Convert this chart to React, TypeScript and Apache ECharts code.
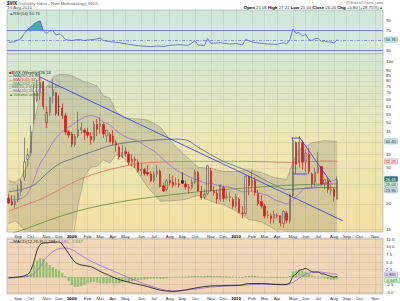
import React, { useEffect, useRef } from 'react';
import * as echarts from 'echarts';

const FONT = '"Liberation Sans", Arial, sans-serif';

// Weekly bars: week 0 = 15-Aug-2008 ... week 104 = 13-Aug-2010; the axis runs on to week 118
const AXIS_MAX_WEEK = 118.5;
const monthStartWeeks = [3, 7, 12, 16, 20, 25, 29, 33, 37, 42, 46, 51, 55, 59, 64, 68, 72, 77, 81, 85, 90, 94, 98, 103, 107, 111, 116];
const monthTickLabels = ['Sep', 'Oct', 'Nov', 'Dec', '2009', 'Feb', 'Mar', 'Apr', 'May', 'Jun', 'Jul', 'Aug', 'Sep', 'Oct', 'Nov', 'Dec', '2010', 'Feb', 'Mar', 'Apr', 'May', 'Jun', 'Jul', 'Aug', 'Sep', 'Oct', 'Nov'];

const opens = [
  21.3, 20.5, 19.8, 20.9, 22.9, 27.0, 33.0, 35.5, 52.0, 64.0,
  70.0, 79.0, 50.0, 56.0, 68.0, 70.0, 60.0, 59.0, 54.0, 45.0,
  44.0, 39.0, 43.0, 46.0, 46.0, 45.0, 43.0, 41.0, 49.0, 48.0,
  49.0, 43.0, 44.0, 43.0, 40.0, 38.0, 34.0, 36.0, 35.0, 32.0,
  33.0, 32.0, 29.0, 29.5, 28.5, 28.0, 26.0, 28.0, 29.0, 24.5,
  23.5, 26.0, 25.5, 25.0, 25.0, 26.0, 25.0, 24.0, 24.0, 25.5,
  28.5, 23.0, 21.5, 22.5, 29.0, 23.0, 22.5, 21.0, 24.0, 21.5,
  21.5, 21.0, 19.5, 21.0, 18.0, 18.0, 27.0, 24.5, 26.0, 22.5,
  20.5, 19.5, 17.5, 17.5, 17.0, 17.5, 17.5, 16.0, 18.0, 16.5,
  22.0, 40.0, 32.0, 40.0, 32.5, 35.0, 28.0, 25.5, 28.5, 30.5,
  25.0, 26.0, 23.5, 23.5, 21.08,
];
const highs = [
  22.4, 22.1, 22.0, 24.8, 26.4, 42.2, 37.5, 48.4, 76.9, 81.2,
  89.5, 80.0, 60.0, 67.0, 81.5, 70.5, 68.0, 62.0, 56.0, 46.0,
  45.0, 44.0, 56.6, 50.0, 47.0, 47.0, 45.0, 50.9, 52.0, 53.3,
  50.0, 46.0, 45.0, 46.0, 41.0, 39.0, 39.0, 38.0, 36.0, 35.0,
  34.0, 33.0, 31.5, 30.0, 31.0, 29.0, 29.0, 31.0, 29.5, 25.5,
  26.5, 28.0, 27.5, 27.0, 26.5, 28.5, 26.0, 25.0, 26.5, 29.5,
  29.0, 24.5, 23.5, 31.0, 30.0, 24.5, 23.5, 25.0, 24.5, 23.0,
  23.0, 21.5, 22.5, 21.5, 19.5, 27.5, 27.5, 29.0, 27.0, 23.5,
  22.0, 20.0, 18.5, 18.0, 18.5, 18.0, 17.5, 18.5, 18.5, 22.5,
  42.2, 40.5, 43.0, 41.0, 37.0, 37.5, 28.5, 30.0, 36.0, 30.5,
  26.5, 27.0, 25.0, 24.0, 27.21,
];
const lows = [
  20.0, 19.6, 19.0, 20.4, 21.9, 25.9, 30.5, 34.0, 49.0, 63.0,
  65.0, 58.0, 47.0, 54.0, 62.0, 54.0, 54.0, 52.0, 43.5, 42.0,
  38.0, 38.0, 42.0, 44.0, 41.0, 42.0, 39.0, 40.0, 43.0, 44.0,
  42.0, 40.0, 40.0, 39.0, 36.0, 33.0, 33.5, 34.0, 31.0, 30.5,
  30.0, 28.5, 27.5, 27.5, 27.5, 25.5, 25.5, 27.0, 24.0, 23.0,
  23.0, 24.5, 24.0, 24.5, 24.0, 25.0, 23.5, 22.5, 23.5, 25.0,
  23.0, 21.0, 21.0, 22.0, 23.0, 22.0, 20.0, 20.5, 20.5, 21.0,
  20.5, 19.0, 19.0, 18.0, 17.0, 17.5, 22.0, 23.0, 22.0, 19.5,
  19.0, 17.0, 17.0, 16.0, 16.0, 17.0, 15.5, 15.2, 16.0, 16.0,
  21.5, 28.0, 30.0, 29.5, 28.5, 28.0, 24.0, 24.5, 28.0, 24.5,
  23.5, 22.5, 22.0, 20.5, 21.0,
];
const closes = [
  20.2, 19.8, 20.6, 22.6, 25.7, 32.1, 34.7, 45.1, 69.95, 70.33,
  79.13, 59.89, 56.10, 66.31, 72.67, 55.28, 59.93, 54.28, 44.93, 43.38,
  39.19, 42.82, 46.11, 47.27, 44.84, 43.37, 41.25, 49.30, 46.35, 49.33,
  43.99, 45.89, 40.19, 39.70, 38.85, 33.94, 35.84, 35.30, 32.05, 33.12,
  32.63, 28.92, 29.62, 28.15, 27.99, 25.93, 27.95, 29.02, 24.34, 23.09,
  25.92, 25.40, 24.66, 25.01, 24.76, 25.26, 24.15, 23.92, 25.61, 28.68,
  23.12, 21.43, 22.27, 30.69, 23.15, 22.73, 21.14, 24.74, 21.25, 21.59,
  21.68, 19.47, 21.68, 18.13, 17.91, 27.31, 24.62, 26.11, 22.73, 20.02,
  19.50, 17.42, 17.58, 16.97, 17.77, 17.47, 16.14, 18.36, 16.62, 22.05,
  40.95, 31.24, 40.10, 32.07, 35.48, 28.79, 25.05, 28.53, 30.12, 24.98,
  26.25, 23.47, 23.50, 21.74, 26.24,
];

// overlays: [week, value]
const ma20 = [[0, 20.96], [2, 20.9], [4, 21.2], [6, 22.4], [8, 26.1], [10, 31.5], [12, 35.2], [14, 40.0], [16, 43.7], [18, 46.5], [20, 48.6], [22, 51.0], [24, 53.2], [26, 54.1], [28, 53.1], [30, 50.3], [32, 48.8], [34, 45.8], [36, 43.5], [38, 41.9], [40, 41.1], [42, 39.6], [44, 37.8], [46, 36.3], [48, 34.1], [50, 31.9], [52, 30.1], [54, 28.7], [56, 27.7], [58, 26.8], [60, 26.1], [62, 25.3], [64, 25.2], [66, 24.7], [68, 24.3], [70, 24.1], [72, 23.6], [74, 22.9], [76, 23.1], [78, 23.0], [80, 22.4], [82, 22.0], [84, 21.0], [86, 20.5], [88, 20.0], [90, 20.9], [92, 22.45], [94, 24.0], [96, 24.1], [98, 24.6], [100, 25.2], [102, 25.8], [104, 26.46]];
const ma50 = [[0, 22.9], [4, 23.5], [8, 24.7], [12, 28.1], [16, 31.4], [20, 33.2], [24, 35.0], [28, 36.7], [32, 38.5], [36, 39.6], [40, 40.4], [44, 40.9], [48, 41.2], [52, 41.5], [56, 41.2], [60, 37.9], [64, 34.8], [68, 32.3], [72, 30.5], [76, 28.8], [80, 26.7], [84, 24.8], [88, 23.5], [92, 23.7], [96, 23.9], [100, 24.05], [104, 23.96]];
const ma100 = [[0, 18.4], [5, 19.7], [10, 21.0], [15, 23.0], [20, 25.3], [25, 27.3], [30, 28.9], [35, 30.2], [40, 31.3], [45, 31.9], [50, 32.1], [60, 32.3], [70, 32.3], [80, 32.2], [90, 31.9], [100, 32.4], [104, 32.29]];
const ma200 = [[0, 14.2], [4, 14.8], [8, 15.6], [16, 17.3], [24, 18.8], [32, 20.0], [40, 21.0], [50, 22.0], [60, 22.9], [70, 23.6], [80, 24.2], [90, 24.7], [100, 25.0], [104, 25.04]];
const bbUpper = [[0, 26.0], [2, 25.5], [4, 27.0], [6, 31.0], [8, 49.7], [10, 68.7], [12, 74.8], [14, 83.3], [16, 86.1], [18, 86.3], [20, 84.8], [22, 82.2], [24, 79.2], [26, 77.9], [28, 75.7], [30, 67.7], [32, 66.0], [34, 56.8], [36, 52.9], [38, 52.5], [40, 52.3], [44, 51.5], [48, 47.6], [52, 39.5], [56, 34.4], [60, 30.2], [64, 29.8], [68, 28.8], [72, 28.8], [76, 29.4], [80, 28.5], [84, 26.9], [88, 26.3], [90, 32.0], [92, 36.9], [96, 39.8], [100, 40.8], [104, 40.45]];
const bbLower = [[0, 16.0], [2, 16.5], [4, 15.5], [6, 14.2], [8, 8], [10, 8], [12, 8], [14, 8], [16, 8], [18, 8], [20, 12.4], [22, 19.8], [24, 27.2], [26, 30.3], [28, 30.5], [30, 32.9], [32, 31.6], [34, 34.8], [36, 34.1], [38, 31.5], [40, 29.9], [44, 24.1], [48, 20.6], [52, 20.7], [56, 21.0], [60, 22.0], [64, 20.6], [68, 19.8], [72, 18.4], [76, 16.8], [80, 16.3], [84, 15.1], [88, 13.7], [90, 9.8], [92, 8], [96, 8.4], [100, 9.6], [104, 12.46]];

// hand-drawn trend lines on the price panel: [[week, value], [week, value]]
const trendLines = [
  [[9.7, 84], [105.8, 16.5]],
  [[92, 42.5], [102, 25.5]],
  [[89.5, 42.0], [92, 42.0]],
  [[90, 28.0], [94.5, 28.0]],
];

// tick values; the ones listed as hidden sit behind value badges
const priceTicks = [15, 20, 25, 30, 35, 40, 45, 50, 55, 60, 65, 70, 75, 80, 85, 90, 100];
const priceLabelTicks = [15, 20, 30, 35, 45, 50, 55, 60, 65, 70, 75, 80, 85, 90, 100];

const rsi = [[0, 44.7], [2, 47], [4, 53], [5, 63], [6, 71], [7, 76], [8, 82], [9, 86], [10, 88], [11, 68], [12, 63], [13, 68], [14, 69], [15, 60], [16, 62], [17, 58.7], [18, 51], [20, 48.7], [22, 51.3], [24, 49], [25, 50], [27, 51], [29, 54], [30, 48.7], [32, 46.7], [35, 44.7], [38, 41.3], [41, 38.7], [45, 36.7], [47, 38], [49, 37], [51, 39.3], [54, 40.7], [57, 39.3], [59, 48.7], [60, 40], [62, 39], [63, 53.3], [64, 43.3], [67, 44.7], [70, 42], [72, 43], [74, 40], [75, 51.3], [76, 48.7], [78, 44.7], [82, 42], [85, 41.3], [87, 44.7], [88, 42], [89, 50], [90, 71.3], [91, 63.3], [92, 64.7], [93, 58], [94, 61.3], [95, 51.3], [96, 49], [97, 53.3], [98, 53], [99, 47], [100, 48], [101, 46], [102, 46], [103, 44], [104, 50.76]];
const rsiTicks = [30, 70, 90];

const macd = [[0, -0.2], [4, 0.2], [6, 0.9], [7, 2.2], [8, 5.0], [9, 8.8], [10, 10.8], [11, 11.3], [12, 11.3], [14, 11.6], [16, 11.6], [17, 10.8], [19, 7.8], [21, 5.0], [23, 4.0], [26, 3.5], [29, 1.9], [32, 0.5], [35, -0.8], [39, -1.9], [44, -3.1], [48, -4.3], [52, -4.7], [56, -4.2], [60, -3.4], [64, -2.9], [67, -2.8], [70, -2.7], [73, -2.7], [76, -2.1], [80, -2.1], [83, -2.3], [86, -2.5], [88, -2.4], [89, -1.9], [90, 0.3], [91, 1.0], [92, 2.3], [93, 2.5], [94, 2.9], [95, 2.4], [96, 1.8], [97, 1.7], [98, 1.7], [99, 1.1], [100, 1.0], [101, 0.6], [102, 0.3], [103, 0.0], [104, 0.232]];
const signal = [[0, -0.3], [4, 0.0], [6, 0.3], [8, 1.0], [10, 3.5], [12, 6.5], [14, 8.4], [16, 9.4], [18, 9.6], [20, 9.1], [23, 7.2], [26, 5.3], [29, 3.9], [32, 2.5], [35, 1.2], [39, -0.6], [44, -2.6], [48, -3.9], [52, -4.6], [56, -4.3], [60, -3.8], [64, -3.3], [68, -3.0], [72, -2.8], [76, -2.5], [80, -2.3], [84, -2.3], [88, -2.3], [90, -1.7], [92, -0.3], [94, 1.0], [96, 1.6], [98, 1.7], [100, 1.5], [102, 1.2], [104, 0.88]];
const histogram = [
  -0.1, 0.0, 0.1, 0.1, 0.2, 0.4, 0.6, 1.5, 4.0, 5.5,
  6.3, 6.0, 4.8, 4.0, 3.2, 2.6, 2.2, 1.3, 0.3, -1.2,
  -2.6, -3.2, -3.1, -2.9, -2.4, -2.0, -1.7, -1.5, -1.7, -1.9,
  -2.0, -2.1, -2.0, -2.0, -2.0, -2.0, -1.7, -1.5, -1.4, -1.3,
  -1.1, -0.9, -0.8, -0.7, -0.6, -0.5, -0.5, -0.4, -0.5, -0.4,
  -0.3, -0.2, -0.1, 0.0, 0.1, 0.1, 0.1, 0.2, 0.3, 0.4,
  0.3, 0.3, 0.3, 0.5, 0.4, 0.3, 0.3, 0.3, 0.2, 0.2,
  0.1, 0.1, 0.1, -0.1, -0.2, 0.3, 0.4, 0.5, 0.4, 0.2,
  0.1, 0.0, -0.1, -0.1, -0.1, -0.2, -0.2, -0.1, -0.1, 0.4,
  1.8, 2.0, 2.4, 2.0, 1.8, 1.0, 0.4, 0.1, 0.1, -0.3,
  -0.4, -0.6, -0.8, -0.9, -0.647,
];
const macdTicks = [-5, -2.5, 0, 2.5, 5, 7.5, 10, 12.5];
const macdLabelTicks = [-5, -2.5, 2.5, 5, 7.5, 10, 12.5];

const L = (v: number) => Math.log10(v);
const logPts = (pts: number[][]) => pts.map(([i, v]) => [i, L(v)]);

function abovePolys(pts: number[][], level: number) {
  const polys: number[][][] = [];
  let cur: number[][] | null = null;
  for (let k = 0; k < pts.length; k++) {
    const [x, y] = pts[k];
    const above = y > level;
    if (k > 0) {
      const [px, py] = pts[k - 1];
      const pAbove = py > level;
      if (above !== pAbove) {
        const t = (level - py) / (y - py);
        const cx = px + t * (x - px);
        if (above) cur = [[cx, level]];
        else if (cur) { cur.push([cx, level]); polys.push(cur); cur = null; }
      }
    } else if (above) cur = [[x, level]];
    if (above && cur) cur.push([x, y]);
  }
  if (cur) { cur.push([cur[cur.length - 1][0], level]); polys.push(cur); }
  return polys;
}

type Badge = { v: number; text: string; bg: string; fg: string; bd: string };
const priceBadges: Badge[] = [
  { v: 40.45, text: '40.45', bg: '#c4e2e8', fg: '#234', bd: '#7aaab4' },
  { v: 32.29, text: '32.29', bg: '#fbe4e4', fg: '#c22', bd: '#e66' },
  { v: 26.46, text: '26.46', bg: '#2f6f78', fg: '#fff', bd: '#2f6f78' },
  { v: 25.04, text: '25.04', bg: '#cfe3d6', fg: '#253', bd: '#7a9' },
  { v: 23.96, text: '23.96', bg: '#c9dcea', fg: '#234', bd: '#7d9cb8' },
];
const rsiBadges: Badge[] = [{ v: 50.76, text: '50.76', bg: '#c4e2e8', fg: '#234', bd: '#7aaab4' }];
const macdBadges: Badge[] = [
  { v: 0.88, text: '0.880', bg: '#e4dcf6', fg: '#436', bd: '#a88ad8' },
  { v: -0.647, text: '-0.647', bg: '#d6efd0', fg: '#363', bd: '#7b7' },
];

const BADGE_H = 5.2;

function badgeSeries(axisIndex: number, items: Badge[], toY: (v: number) => number) {
  return {
    type: 'custom', xAxisIndex: axisIndex, yAxisIndex: axisIndex, silent: true, z: 30,
    data: items.map((b) => [AXIS_MAX_WEEK, toY(b.v)]),
    renderItem: (params: any, api: any) => {
      // stack the badges so that none covers another
      const ys = items.map((b) => api.coord([AXIS_MAX_WEEK, toY(b.v)])[1]);
      const order = ys.map((y, k) => k).sort((a, b) => ys[a] - ys[b]);
      const placed: number[] = new Array(items.length);
      let last = -Infinity;
      order.forEach((k) => { const y = Math.max(ys[k], last + BADGE_H + 0.4); placed[k] = y; last = y; });
      const b = items[params.dataIndex];
      const p = api.coord([AXIS_MAX_WEEK, toY(b.v)]);
      const y = placed[params.dataIndex];
      const w = b.text.length * 2.2 + 2;
      return {
        type: 'group',
        children: [
          { type: 'rect', shape: { x: p[0] + 1.5, y: y - BADGE_H / 2, width: w, height: BADGE_H, r: 0.8 }, style: { fill: b.bg, stroke: b.bd, lineWidth: 0.5 } },
          { type: 'text', style: { x: p[0] + 2.5, y: y + 0.2, text: b.text, fill: b.fg, fontSize: 4.1, fontFamily: FONT, verticalAlign: 'middle' } },
        ],
      };
    },
  };
}

function buildOption() {
  const grids = [
    { left: 7, width: 376, top: 10, height: 44 },
    { left: 7, width: 376, top: 54, height: 178 },
    { left: 7, width: 376, top: 238, height: 56 },
  ];
  const bgs = [
    new echarts.graphic.LinearGradient(0, 0, 0, 1, [{ offset: 0, color: '#cfe6da' }, { offset: 1, color: '#d6eadb' }]),
    new echarts.graphic.LinearGradient(0, 0, 0, 1, [{ offset: 0, color: '#d3e7d3' }, { offset: 0.45, color: '#ebe8b6' }, { offset: 1, color: '#f4e0a4' }]),
    new echarts.graphic.LinearGradient(0, 0, 0, 1, [{ offset: 0, color: '#f1d8b8' }, { offset: 1, color: '#f0d4b4' }]),
  ];
  const gridLine = { show: true, lineStyle: { color: 'rgba(140,140,140,0.35)', width: 0.5 } };
  const axisText = { fontSize: 4.4, fontFamily: FONT, color: '#333' };

  const xAxis = grids.map((_, k) => ({
    type: 'value', gridIndex: k, min: -0.5, max: AXIS_MAX_WEEK,
    axisLine: { show: false }, axisTick: { show: false, customValues: monthStartWeeks },
    splitLine: gridLine,
    axisLabel: {
      show: k > 0, customValues: monthStartWeeks, margin: 2, ...axisText,
      formatter: (v: number) => {
        const idx = monthStartWeeks.indexOf(Math.round(v));
        const s = idx >= 0 ? monthTickLabels[idx] : '';
        return /^\d{4}$/.test(s) ? `{y|${s}}` : s;
      },
      rich: { y: { fontWeight: 'bold', fontSize: 4.4, fontFamily: FONT, color: '#000' } },
    },
  }));

  const priceMin = L(15) - 2.7 / 204;
  const priceMax = L(15) + (229.3 - 54) / 204;
  const yAxis = [
    {
      type: 'value', gridIndex: 0, position: 'right', min: 22, max: 110,
      axisLine: { show: false }, axisTick: { show: false, customValues: rsiTicks },
      splitLine: { show: false },
      axisLabel: { customValues: rsiTicks, margin: 3, ...axisText },
    },
    {
      type: 'value', gridIndex: 1, position: 'right', min: priceMin, max: priceMax,
      axisLine: { show: false }, axisTick: { show: false, customValues: priceTicks.map(L) },
      splitLine: gridLine,
      axisLabel: { customValues: priceLabelTicks.map(L), margin: 3, ...axisText, formatter: (v: number) => String(Math.round(Math.pow(10, v))) },
    },
    {
      type: 'value', gridIndex: 2, position: 'right', min: -5.56, max: 12.93,
      axisLine: { show: false }, axisTick: { show: false, customValues: macdTicks },
      splitLine: gridLine,
      axisLabel: { customValues: macdLabelTicks, margin: 3, ...axisText, formatter: (v: number) => v.toFixed(1) },
    },
  ];

  const line = (data: number[][], color: string, axis: number, width = 0.8, z = 5, smooth: any = 0.3) => ({
    type: 'line', xAxisIndex: axis, yAxisIndex: axis, data, symbol: 'none', smooth, z,
    lineStyle: { color, width }, silent: true,
  });

  const candles = closes.map((c, i) => {
    const o = opens[i];
    const prev = i > 0 ? closes[i - 1] : Infinity;
    const red = c < prev;
    const filled = c < o;
    const col = red ? '#e01818' : '#222';
    const fill = filled ? col : 'rgba(255,255,255,0)';
    const border = red ? '#e01818' : (filled ? '#222' : '#666');
    return {
      value: [i, L(o), L(c), L(lows[i]), L(highs[i])],
      itemStyle: { color: fill, color0: fill, borderColor: border, borderColor0: border },
    };
  });

  const overbought = abovePolys(rsi, 70);

  const series: any[] = [
    // RSI
    {
      type: 'custom', xAxisIndex: 0, yAxisIndex: 0, silent: true, z: 3,
      data: overbought.map((p) => [p[0][0], 70]),
      renderItem: (params: any, api: any) => ({
        type: 'polygon',
        shape: { points: overbought[params.dataIndex].map((q) => api.coord(q)) },
        style: { fill: '#4fa9a3', stroke: '#4a8fa0', lineWidth: 0.4 },
      }),
    },
    {
      ...line(rsi, '#5563d6', 0, 0.8, 5, false),
      markLine: {
        silent: true, symbol: 'none', label: { show: false }, animation: false,
        data: [
          { yAxis: 70, lineStyle: { color: '#6c74e0', width: 0.9, type: 'solid' } },
          { yAxis: 30, lineStyle: { color: '#6c74e0', width: 0.9, type: 'solid' } },
          { yAxis: 50, lineStyle: { color: '#6c74e0', width: 0.7, type: [3, 1.5, 1, 1.5] } },
        ],
      },
    },
    // Bollinger band fill
    {
      type: 'custom', xAxisIndex: 1, yAxisIndex: 1, silent: true, z: 1,
      data: [[0, L(20)]],
      renderItem: (params: any, api: any) => {
        const cs = params.coordSys;
        const clampY = (y: number) => Math.min(cs.y + cs.height, Math.max(cs.y, y));
        const pts: number[][] = [];
        bbUpper.forEach(([i, v]) => { const p = api.coord([i, L(v)]); pts.push([p[0], clampY(p[1])]); });
        for (let k = bbLower.length - 1; k >= 0; k--) {
          const [i, v] = bbLower[k];
          const p = api.coord([i, L(v)]);
          pts.push([p[0], clampY(p[1])]);
        }
        return { type: 'polygon', shape: { points: pts }, style: { fill: 'rgba(110,105,90,0.22)' } };
      },
    },
    line(logPts(bbUpper), 'rgba(120,120,110,0.7)', 1, 0.6, 2, false),
    line(logPts(bbLower), 'rgba(120,120,110,0.7)', 1, 0.6, 2, false),
    line(logPts(ma200), '#5e8f3c', 1, 0.8, 4),
    line(logPts(ma100), '#e46a5a', 1, 0.8, 4),
    line(logPts(ma50), '#5b6482', 1, 0.8, 4),
    line(logPts(ma20), '#9b6be0', 1, 0.8, 4),
    {
      type: 'candlestick', xAxisIndex: 1, yAxisIndex: 1, data: candles, barWidth: 1.8, z: 8, silent: true,
      encode: { x: 0, y: [1, 2, 3, 4] },
      itemStyle: { borderWidth: 0.7 },
    },
    ...trendLines.map((seg) => ({ ...line(logPts(seg), '#2228f0', 1, 0.75, 10, false) })),
    badgeSeries(1, priceBadges, L),
    badgeSeries(0, rsiBadges, (v) => v),
    // MACD
    {
      type: 'bar', xAxisIndex: 2, yAxisIndex: 2, silent: true, z: 3, barWidth: 1.9,
      data: histogram.map((v, i) => [i, v]),
      itemStyle: { color: '#8fcf6c', borderColor: '#5f9a46', borderWidth: 0.3 },
    },
    line(signal, '#8e6ee0', 2, 0.8, 5),
    line(macd, '#111', 2, 0.8, 6),
    badgeSeries(2, macdBadges, (v) => v),
  ];

  const tiny = 4.3;
  const legendRows = [
    { text: '{i|■}$VIX (Weekly) 26.24', color: '#111', y: 70 },
    { text: '{m|—}MA(50) 23.96', color: '#4a5574', y: 73.7 },
    { text: '{r|—}MA(100) 32.29', color: '#d03a2a', y: 77.4 },
    { text: '{g|—}MA(200) 25.04', color: '#5a7a44', y: 81.1 },
    { text: '{b|▒}BB(20,2.0) 12.46 - 40.45', color: '#666', y: 84.8 },
    { text: '{p|—}MA(20) 26.46', color: '#8a5ad8', y: 88.5 },
    { text: '{v|▲}Volume undef', color: '#3a7a2a', y: 92.2 },
  ];
  const legendRich = {
    i: { fill: '#c22', fontSize: tiny }, m: { fill: '#4a5574', fontSize: tiny }, r: { fill: '#d03a2a', fontSize: tiny },
    g: { fill: '#5a7a44', fontSize: tiny }, b: { fill: '#888', fontSize: tiny }, p: { fill: '#8a5ad8', fontSize: tiny },
    v: { fill: '#3a9a2a', fontSize: tiny },
  };

  const graphic: any[] = [
    {
      type: 'text', x: 7, y: 0.5, silent: true,
      style: {
        text: '{b|$VIX} (Volatility Index - New Methodology) INDX', fontSize: tiny, fontFamily: FONT, fill: '#666',
        rich: { b: { fontWeight: 'bold', fill: '#000', fontSize: 4.6, fontFamily: FONT } },
      },
    },
    { type: 'text', x: 7, y: 5.6, silent: true, style: { text: '13-Aug-2010', fontSize: tiny, fontFamily: FONT, fill: '#444' } },
    { type: 'text', x: 383, y: 0.5, silent: true, style: { text: '@StockCharts.com', fontSize: tiny, fontFamily: FONT, fill: '#777', align: 'right' } },
    {
      type: 'text', x: 383, y: 5.6, silent: true,
      style: {
        text: '{b|Open} 21.08 {b|High} 27.21 {b|Low} 21.00 {b|Close} 26.24 {b|Chg} +5.80 (+28.75%){u|▲}',
        fontSize: tiny, fontFamily: FONT, fill: '#333', align: 'right',
        rich: { b: { fontWeight: 'bold', fill: '#000', fontSize: tiny, fontFamily: FONT }, u: { fill: '#2a9a2a', fontSize: tiny } },
      },
    },
    {
      type: 'text', x: 9, y: 11.5, silent: true, z: 40,
      style: { text: '{i|▲}RSI(14) 50.76', fontSize: tiny, fontFamily: FONT, fill: '#333', rich: { i: { fill: '#2a8a8a', fontSize: tiny } } },
    },
    {
      type: 'text', x: 9, y: 239.5, silent: true, z: 40,
      style: {
        text: '{k|—}MACD(12,26,9) 0.232, {p|0.880}, {g|-0.647}', fontSize: tiny, fontFamily: FONT, fill: '#222',
        rich: { k: { fill: '#000', fontSize: tiny }, p: { fill: '#8e6ee0', fontSize: tiny }, g: { fill: '#5aa03a', fontSize: tiny } },
      },
    },
    ...legendRows.map((r) => ({
      type: 'text', x: 9, y: r.y, silent: true, z: 40,
      style: { text: r.text, fontSize: tiny, fontFamily: FONT, fill: r.color, rich: legendRich },
    })),
  ];

  return {
    animation: false,
    backgroundColor: '#ffffff',
    grid: grids.map((g, k) => ({ ...g, show: true, backgroundColor: bgs[k], borderColor: '#aaa', borderWidth: 0.6 })),
    xAxis, yAxis, series, graphic,
  };
}

export default function App() {
  const ref = useRef<HTMLDivElement>(null);
  useEffect(() => {
    if (!ref.current) return;
    const chart = echarts.init(ref.current, null, { renderer: 'svg' });
    chart.setOption(buildOption() as any);
    return () => chart.dispose();
  }, []);
  return <div ref={ref} style={{ position: 'absolute', left: 0, top: 0, width: 400, height: 301, background: '#fff' }} />;
}
